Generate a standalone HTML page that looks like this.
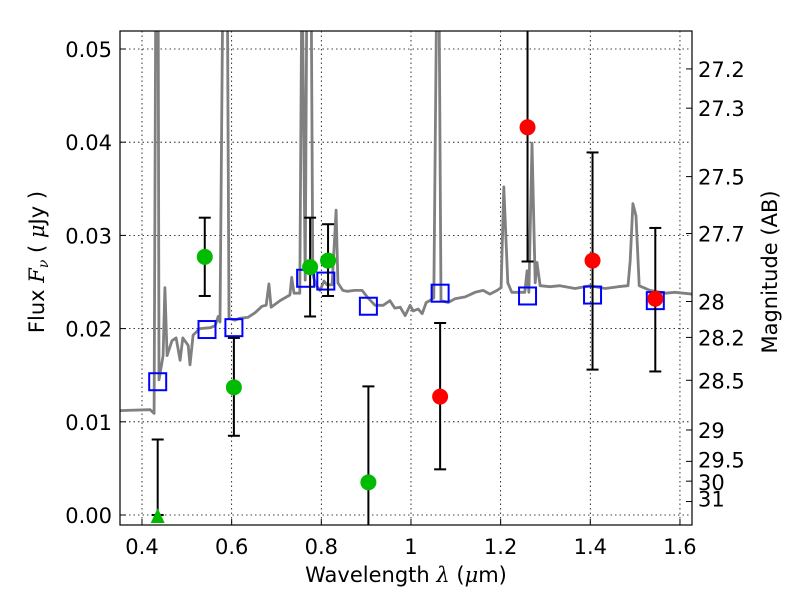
<!DOCTYPE html>
<html><head><meta charset="utf-8"><style>
html,body{margin:0;padding:0;background:#fff;}
svg{display:block;font-family:"DejaVu Sans","Liberation Sans",sans-serif;}
</style></head><body>
<svg id="chart" width="800" height="600" viewBox="0 0 800 600">
<rect width="800" height="600" fill="#fff"/>
<defs><clipPath id="plotclip"><rect x="120" y="31" width="572" height="494"/></clipPath></defs>
<g id="grid"></g>
<g id="spec" clip-path="url(#plotclip)"></g>
<g id="marks" clip-path="url(#plotclip)"></g>
<rect x="120" y="31" width="572" height="494" fill="none" stroke="#000" stroke-width="1.2"/>
<g id="axes"></g>
<text x="406" y="582" font-size="21" text-anchor="middle">Wavelength  <tspan font-style="italic" font-family="DejaVu Serif,serif">λ</tspan> (<tspan font-style="italic" font-family="DejaVu Serif,serif">μ</tspan>m)</text>
<text transform="translate(44,262) rotate(-90)" font-size="21" text-anchor="middle">Flux  <tspan font-style="italic" font-family="DejaVu Serif,serif">F<tspan font-size="14" dy="4">ν</tspan></tspan><tspan dy="-4">  ( <tspan font-style="italic" font-family="DejaVu Serif,serif">μ</tspan>Jy )</tspan></text>
<text transform="translate(777,272) rotate(-90)" font-size="21" text-anchor="middle">Magnitude (AB)</text>
</svg>
<script>
const specWave=[0.351,0.418,0.427,0.431,0.436,0.438,0.447,0.451,0.456,0.467,0.476,0.485,0.491,0.503,0.507,0.514,0.529,0.552,0.563,0.570,0.574,0.581,0.590,0.594,0.607,0.618,0.636,0.652,0.668,0.677,0.683,0.688,0.708,0.730,0.734,0.739,0.752,0.757,0.764,0.768,0.777,0.781,0.788,0.797,0.806,0.813,0.824,0.833,0.837,0.848,0.857,0.875,0.891,0.904,0.920,0.938,0.953,0.964,0.976,0.987,0.998,1.005,1.016,1.025,1.034,1.042,1.051,1.058,1.062,1.067,1.083,1.098,1.121,1.143,1.161,1.176,1.192,1.201,1.207,1.216,1.225,1.243,1.254,1.259,1.263,1.270,1.277,1.281,1.288,1.310,1.332,1.366,1.399,1.433,1.462,1.484,1.489,1.495,1.502,1.509,1.533,1.567,1.589,1.627];
const specFlux=[0.0112,0.0113,0.0109,0.06,0.06,0.0145,0.0171,0.0244,0.0171,0.0187,0.0190,0.0166,0.0190,0.0182,0.0161,0.0193,0.0200,0.0201,0.0203,0.0213,0.0207,0.06,0.06,0.0211,0.0209,0.0211,0.0212,0.0217,0.0224,0.0225,0.0248,0.0223,0.0230,0.0236,0.0255,0.0238,0.0238,0.06,0.0252,0.06,0.06,0.0258,0.0247,0.0241,0.0251,0.0247,0.0247,0.0327,0.0249,0.0241,0.0240,0.0241,0.0241,0.0233,0.0225,0.0225,0.0230,0.0222,0.0223,0.0214,0.0225,0.0219,0.0221,0.0216,0.0228,0.0230,0.0233,0.06,0.06,0.0230,0.0228,0.0232,0.0234,0.0239,0.0241,0.0237,0.0241,0.0244,0.0352,0.0249,0.0239,0.0239,0.0239,0.0262,0.0239,0.0399,0.0249,0.0271,0.0246,0.0245,0.0246,0.0243,0.0246,0.0243,0.0245,0.0246,0.0273,0.0334,0.0321,0.0246,0.0241,0.0238,0.0239,0.0237];
const greenWave=[0.54,0.605,0.775,0.815,0.905];
const greenFlux=[0.0277,0.0137,0.0266,0.0273,0.0035];
const greenLo=[0.0235,0.0085,0.0213,0.0235,-0.002];
const greenHi=[0.0319,0.0190,0.0319,0.0312,0.0138];
const triWave=[0.435];
const triFlux=[0.0];
const triHi=[0.0081];
const redWave=[1.065,1.26,1.405,1.545];
const redFlux=[0.0127,0.0416,0.0273,0.0232];
const redLo=[0.0049,0.0272,0.0156,0.0154];
const redHi=[0.0206,0.06,0.0389,0.0308];
const modelWave=[0.435,0.545,0.605,0.765,0.81,0.905,1.065,1.26,1.405,1.545];
const modelFlux=[0.0143,0.0199,0.0201,0.0254,0.0251,0.0224,0.0238,0.0235,0.0236,0.0230];
const xTicks=[0.4,0.6,0.8,1.0,1.2,1.4,1.6];
const xTickLabels=["0.4","0.6","0.8","1","1.2","1.4","1.6"];
const yTicks=[0,0.01,0.02,0.03,0.04,0.05];
const yTickLabels=["0.00","0.01","0.02","0.03","0.04","0.05"];
const magTicks=[27.2,27.3,27.5,27.7,28,28.2,28.5,29,29.5,30,31];

const NS="http://www.w3.org/2000/svg";
const X=v=>142+(v-0.4)*448.3;
const Y=v=>515-v*9320;
function mk(parent,tag,attrs){const e=document.createElementNS(NS,tag);for(const k in attrs)e.setAttribute(k,attrs[k]);document.getElementById(parent).appendChild(e);return e;}

xTicks.forEach((t,i)=>{
  const g=mk('grid','line',{x1:X(t),x2:X(t),y1:31,y2:525,stroke:'#000','stroke-width':0.8,'stroke-dasharray':'1.5,3'});
  
  
  const tk=mk('axes','line',{x1:X(t),x2:X(t),y1:525,y2:519,stroke:'#000'});
  
  
  const tx=mk('axes','text',{x:X(t),y:554,'font-size':21,'text-anchor':'middle'});
  tx.textContent=xTickLabels[i];
  
  
});
yTicks.forEach((t,i)=>{
  const g=mk('grid','line',{x1:120,x2:692,y1:Y(t),y2:Y(t),stroke:'#000','stroke-width':0.8,'stroke-dasharray':'1.5,3'});
  
  
  const tk=mk('axes','line',{x1:120,x2:126,y1:Y(t),y2:Y(t),stroke:'#000'});
  
  
  const tx=mk('axes','text',{x:112,y:Y(t)+8,'font-size':21,'text-anchor':'end'});
  tx.textContent=yTickLabels[i];
  
  
});
magTicks.forEach(m=>{
  const f=Math.pow(10,-0.4*(m-23.9));
  const y=Y(f);
  const tk=mk('axes','line',{x1:686,x2:692,y1:y,y2:y,stroke:'#000'});
  
  
  let ty=y+8;
  if(m===30) ty=y+9; if(m===31) ty=y+5; if(m===29.5) ty=y+6;
  const tx=mk('axes','text',{x:698,y:ty,'font-size':21});
  tx.textContent=String(m);
  
  
});

const pts=specWave.map((w,i)=>X(w).toFixed(1)+','+Y(specFlux[i]).toFixed(1)).join(' ');
const pl=mk('spec','polyline',{points:pts,fill:'none',stroke:'#808080','stroke-width':2.8,'stroke-linejoin':'round'});



function errbar(w,lo,hi){
  const x=X(w);
  const l=mk('marks','line',{x1:x,x2:x,y1:Y(lo),y2:Y(hi),stroke:'#000','stroke-width':2});
  
  
  [lo,hi].forEach(v=>{
    const c=mk('marks','line',{x1:x-6,x2:x+6,y1:Y(v),y2:Y(v),stroke:'#000','stroke-width':2});
    
    
  });
}
modelWave.forEach((w,i)=>{
  const r=mk('marks','rect',{x:X(w)-8.5,y:Y(modelFlux[i])-8.5,width:17,height:17,fill:'none',stroke:'#0000ff','stroke-width':2});
  
  
});
greenWave.forEach((w,i)=>{
  errbar(w,greenLo[i],greenHi[i]);
  const c=mk('marks','circle',{cx:X(w),cy:Y(greenFlux[i]),r:8,fill:'#00bb00'});
  
  
});
triWave.forEach((w,i)=>{
  errbar(w,triFlux[i],triHi[i]);
  const x=X(w),y=Y(triFlux[i]);
  const t=mk('marks','polygon',{points:`${x},${y-7} ${x-7},${y+8} ${x+7},${y+8}`,fill:'#00bb00'});
  
  
});
redWave.forEach((w,i)=>{
  errbar(w,redLo[i],redHi[i]);
  const c=mk('marks','circle',{cx:X(w),cy:Y(redFlux[i]),r:8,fill:'#ff0000'});
  
  
});
</script>
</body></html>
